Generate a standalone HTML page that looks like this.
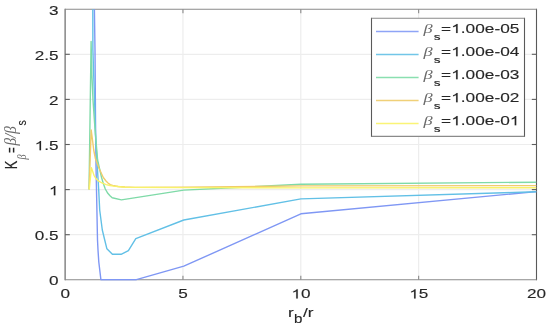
<!DOCTYPE html>
<html><head><meta charset="utf-8"><title>chart</title>
<style>
html,body{margin:0;padding:0;background:#fff;width:550px;height:327px;overflow:hidden;}
svg{display:block;filter:blur(0.35px);}
</style></head><body><svg width="550" height="327" viewBox="0 0 550 327"><g stroke="#ededed" stroke-width="1.2"><line x1="182.95" y1="9.2" x2="182.95" y2="279.8"/><line x1="300.80" y1="9.2" x2="300.80" y2="279.8"/><line x1="418.65" y1="9.2" x2="418.65" y2="279.8"/><line x1="65.1" y1="234.70" x2="536.5" y2="234.70"/><line x1="65.1" y1="189.60" x2="536.5" y2="189.60"/><line x1="65.1" y1="144.50" x2="536.5" y2="144.50"/><line x1="65.1" y1="99.40" x2="536.5" y2="99.40"/><line x1="65.1" y1="54.30" x2="536.5" y2="54.30"/></g><defs><clipPath id="c"><rect x="65.1" y="9.2" width="471.4" height="271.6"/></clipPath></defs><g stroke-width="1.1" fill="none"><line x1="65.1" y1="8.7" x2="65.1" y2="280.3" stroke="#5a5a5a"/><line x1="536.5" y1="8.7" x2="536.5" y2="280.3" stroke="#5a5a5a"/><line x1="65.1" y1="9.2" x2="536.5" y2="9.2" stroke="#8a8a8a"/><line x1="65.1" y1="279.8" x2="536.5" y2="279.8" stroke="#8a8a8a"/><line x1="182.95" y1="279.8" x2="182.95" y2="275.8" stroke="#8a8a8a"/><line x1="182.95" y1="9.2" x2="182.95" y2="13.2" stroke="#8a8a8a"/><line x1="300.80" y1="279.8" x2="300.80" y2="275.8" stroke="#8a8a8a"/><line x1="300.80" y1="9.2" x2="300.80" y2="13.2" stroke="#8a8a8a"/><line x1="418.65" y1="279.8" x2="418.65" y2="275.8" stroke="#8a8a8a"/><line x1="418.65" y1="9.2" x2="418.65" y2="13.2" stroke="#8a8a8a"/><line x1="65.1" y1="234.70" x2="69.8" y2="234.70" stroke="#5e5e5e"/><line x1="536.5" y1="234.70" x2="531.8" y2="234.70" stroke="#5e5e5e"/><line x1="65.1" y1="189.60" x2="69.8" y2="189.60" stroke="#5e5e5e"/><line x1="536.5" y1="189.60" x2="531.8" y2="189.60" stroke="#5e5e5e"/><line x1="65.1" y1="144.50" x2="69.8" y2="144.50" stroke="#5e5e5e"/><line x1="536.5" y1="144.50" x2="531.8" y2="144.50" stroke="#5e5e5e"/><line x1="65.1" y1="99.40" x2="69.8" y2="99.40" stroke="#5e5e5e"/><line x1="536.5" y1="99.40" x2="531.8" y2="99.40" stroke="#5e5e5e"/><line x1="65.1" y1="54.30" x2="69.8" y2="54.30" stroke="#5e5e5e"/><line x1="536.5" y1="54.30" x2="531.8" y2="54.30" stroke="#5e5e5e"/></g><g clip-path="url(#c)" fill="none" stroke-width="1.4" stroke-linejoin="round"><polyline points="94.30,-10.00 94.40,9.30 95.00,50.00 95.50,120.00 96.00,165.00 96.70,200.00 97.50,240.00 98.00,250.00 98.80,262.00 100.90,279.70 136.40,279.70 183.80,266.20 300.90,213.80 536.50,191.60" stroke="#7f97f4"/><polyline points="92.70,-10.00 92.80,9.30 92.90,50.00 93.70,75.00 94.60,100.00 95.50,135.00 96.70,155.00 97.50,170.00 98.70,190.00 99.70,210.00 101.00,220.00 102.30,230.00 104.60,239.50 106.90,248.80 112.40,254.30 121.10,254.30 128.40,250.60 135.80,238.70 183.80,220.00 300.90,198.90 536.50,191.80" stroke="#62c0e6"/><polyline points="89.05,189.50 91.10,41.50 91.90,75.00 93.00,100.00 94.50,122.00 95.50,135.00 96.60,148.00 97.60,160.00 99.50,168.50 101.70,178.00 103.50,184.10 105.30,189.00 107.80,193.30 110.00,195.70 112.20,197.80 121.40,199.90 183.80,190.10 300.90,184.30 536.50,182.20" stroke="#7fdaa8"/><polyline points="89.05,189.50 91.20,130.00 92.50,140.00 93.70,150.00 95.40,158.50 96.60,162.00 98.90,168.00 101.00,172.50 103.30,177.50 106.00,181.00 108.00,183.00 110.20,184.60 114.00,185.80 118.00,186.50 125.00,187.00 135.00,187.40 183.80,187.30 300.90,185.90 536.50,185.60" stroke="#f0cc6c"/><polyline points="89.30,189.50 91.40,167.60 94.00,175.30 96.00,178.60 98.00,180.70 100.10,181.90 103.00,183.40 106.20,184.60 110.00,185.50 114.00,186.10 118.00,186.50 125.00,187.20 183.80,187.60 300.90,187.90 536.50,187.80" stroke="#f8f26a"/></g><g fill="#262626" stroke="#262626" stroke-width="0.12" font-family="Liberation Sans, sans-serif"><text transform="translate(48.96,285.45) scale(1.34,1)" font-size="12.8">0</text><text transform="translate(34.66,240.36) scale(1.34,1)" font-size="12.8">0.5</text><path transform="translate(48.96,195.27) scale(0.00838,-0.00625)" vector-effect="non-scaling-stroke" d="M763 0H583V1147Q518 1085 412 1023T223 930V1104Q374 1175 487 1276T647 1472H763Z"/><path transform="translate(34.66,150.18) scale(0.00838,-0.00625)" vector-effect="non-scaling-stroke" d="M763 0H583V1147Q518 1085 412 1023T223 930V1104Q374 1175 487 1276T647 1472H763Z"/><text transform="translate(44.20,150.18) scale(1.34,1)" font-size="12.8">.5</text><text transform="translate(48.96,105.09) scale(1.34,1)" font-size="12.8">2</text><text transform="translate(34.66,60.00) scale(1.34,1)" font-size="12.8">2.5</text><text transform="translate(48.96,14.91) scale(1.34,1)" font-size="12.8">3</text><text transform="translate(60.43,298.40) scale(1.34,1)" font-size="12.8">0</text><text transform="translate(178.28,298.40) scale(1.34,1)" font-size="12.8">5</text><path transform="translate(291.36,298.40) scale(0.00838,-0.00625)" vector-effect="non-scaling-stroke" d="M763 0H583V1147Q518 1085 412 1023T223 930V1104Q374 1175 487 1276T647 1472H763Z"/><text transform="translate(300.90,298.40) scale(1.34,1)" font-size="12.8">0</text><path transform="translate(409.21,298.40) scale(0.00838,-0.00625)" vector-effect="non-scaling-stroke" d="M763 0H583V1147Q518 1085 412 1023T223 930V1104Q374 1175 487 1276T647 1472H763Z"/><text transform="translate(418.75,298.40) scale(1.34,1)" font-size="12.8">5</text><text transform="translate(527.06,298.40) scale(1.34,1)" font-size="12.8">20</text><text transform="translate(287.90,316.60) scale(1.35,1)" text-anchor="start" font-size="12.8" >r</text><text transform="translate(294.10,322.80) scale(1.22,1)" text-anchor="start" font-size="12.4" >b</text><text transform="translate(303.00,316.60) scale(1.35,1)" text-anchor="start" font-size="12.8" >/r</text></g><text transform="translate(17.00,169.20) scale(1.350,1) rotate(-90)" font-size="12.80" fill="#262626" stroke="#262626" stroke-width="0.12" font-family="Liberation Sans, sans-serif" >K</text><text transform="translate(25.74,159.45) scale(1.305,1) rotate(-90)" font-size="10.20" fill="#6a6a6a"  font-family="Liberation Serif, serif" font-style="italic">β</text><text transform="translate(16.76,152.90) scale(1.580,1) rotate(-90)" font-size="9.90" fill="#262626" stroke="#262626" stroke-width="0.12" font-family="Liberation Sans, sans-serif" >=</text><text transform="translate(16.40,145.57) scale(1.070,1) rotate(-90)" font-size="15.25" fill="#6a6a6a"  font-family="Liberation Serif, serif" font-style="italic">β/β</text><text transform="translate(25.58,125.40) scale(1.160,1) rotate(-90)" font-size="10.60" fill="#262626" stroke="#262626" stroke-width="0.12" font-family="Liberation Sans, sans-serif" >s</text><rect x="371.5" y="18.3" width="153.0" height="118.10000000000001" fill="#fff"/><g stroke-width="1.1"><line x1="371.5" y1="17.8" x2="371.5" y2="136.9" stroke="#5a5a5a"/><line x1="524.5" y1="17.8" x2="524.5" y2="136.9" stroke="#5a5a5a"/><line x1="371.5" y1="18.3" x2="524.5" y2="18.3" stroke="#8a8a8a"/><line x1="371.5" y1="136.4" x2="524.5" y2="136.4" stroke="#8a8a8a"/></g><line x1="376" y1="31.4" x2="418.6" y2="31.4" stroke="#8ea4f6" stroke-width="1.5"/><text transform="translate(423.60,33.25) scale(1.54,1)" text-anchor="start" font-size="11.85" fill="#6a6a6a" font-family="Liberation Serif, serif" font-style="italic">β</text><text transform="translate(433.70,39.60) scale(1.37,1)" text-anchor="start" font-size="9.9" fill="#262626" stroke="#262626" stroke-width="0.12" font-family="Liberation Sans, sans-serif">s</text><g fill="#262626" stroke="#262626" stroke-width="0.12" font-family="Liberation Sans, sans-serif"><text transform="translate(441.10,33.10) scale(1.35,1)" font-size="12.8">=</text><path transform="translate(451.19,33.10) scale(0.00844,-0.00625)" vector-effect="non-scaling-stroke" d="M763 0H583V1147Q518 1085 412 1023T223 930V1104Q374 1175 487 1276T647 1472H763Z"/><text transform="translate(460.80,33.10) scale(1.35,1)" font-size="12.8">.00e-05</text></g><line x1="376" y1="54.45" x2="418.6" y2="54.45" stroke="#72c6e8" stroke-width="1.5"/><text transform="translate(423.60,56.30) scale(1.54,1)" text-anchor="start" font-size="11.85" fill="#6a6a6a" font-family="Liberation Serif, serif" font-style="italic">β</text><text transform="translate(433.70,62.65) scale(1.37,1)" text-anchor="start" font-size="9.9" fill="#262626" stroke="#262626" stroke-width="0.12" font-family="Liberation Sans, sans-serif">s</text><g fill="#262626" stroke="#262626" stroke-width="0.12" font-family="Liberation Sans, sans-serif"><text transform="translate(441.10,56.15) scale(1.35,1)" font-size="12.8">=</text><path transform="translate(451.19,56.15) scale(0.00844,-0.00625)" vector-effect="non-scaling-stroke" d="M763 0H583V1147Q518 1085 412 1023T223 930V1104Q374 1175 487 1276T647 1472H763Z"/><text transform="translate(460.80,56.15) scale(1.35,1)" font-size="12.8">.00e-04</text></g><line x1="376" y1="77.5" x2="418.6" y2="77.5" stroke="#8adfb0" stroke-width="1.5"/><text transform="translate(423.60,79.35) scale(1.54,1)" text-anchor="start" font-size="11.85" fill="#6a6a6a" font-family="Liberation Serif, serif" font-style="italic">β</text><text transform="translate(433.70,85.70) scale(1.37,1)" text-anchor="start" font-size="9.9" fill="#262626" stroke="#262626" stroke-width="0.12" font-family="Liberation Sans, sans-serif">s</text><g fill="#262626" stroke="#262626" stroke-width="0.12" font-family="Liberation Sans, sans-serif"><text transform="translate(441.10,79.20) scale(1.35,1)" font-size="12.8">=</text><path transform="translate(451.19,79.20) scale(0.00844,-0.00625)" vector-effect="non-scaling-stroke" d="M763 0H583V1147Q518 1085 412 1023T223 930V1104Q374 1175 487 1276T647 1472H763Z"/><text transform="translate(460.80,79.20) scale(1.35,1)" font-size="12.8">.00e-03</text></g><line x1="376" y1="100.55" x2="418.6" y2="100.55" stroke="#f0d078" stroke-width="1.5"/><text transform="translate(423.60,102.40) scale(1.54,1)" text-anchor="start" font-size="11.85" fill="#6a6a6a" font-family="Liberation Serif, serif" font-style="italic">β</text><text transform="translate(433.70,108.75) scale(1.37,1)" text-anchor="start" font-size="9.9" fill="#262626" stroke="#262626" stroke-width="0.12" font-family="Liberation Sans, sans-serif">s</text><g fill="#262626" stroke="#262626" stroke-width="0.12" font-family="Liberation Sans, sans-serif"><text transform="translate(441.10,102.25) scale(1.35,1)" font-size="12.8">=</text><path transform="translate(451.19,102.25) scale(0.00844,-0.00625)" vector-effect="non-scaling-stroke" d="M763 0H583V1147Q518 1085 412 1023T223 930V1104Q374 1175 487 1276T647 1472H763Z"/><text transform="translate(460.80,102.25) scale(1.35,1)" font-size="12.8">.00e-02</text></g><line x1="376" y1="123.6" x2="418.6" y2="123.6" stroke="#faf476" stroke-width="1.5"/><text transform="translate(423.60,125.45) scale(1.54,1)" text-anchor="start" font-size="11.85" fill="#6a6a6a" font-family="Liberation Serif, serif" font-style="italic">β</text><text transform="translate(433.70,131.80) scale(1.37,1)" text-anchor="start" font-size="9.9" fill="#262626" stroke="#262626" stroke-width="0.12" font-family="Liberation Sans, sans-serif">s</text><g fill="#262626" stroke="#262626" stroke-width="0.12" font-family="Liberation Sans, sans-serif"><text transform="translate(441.10,125.30) scale(1.35,1)" font-size="12.8">=</text><path transform="translate(451.19,125.30) scale(0.00844,-0.00625)" vector-effect="non-scaling-stroke" d="M763 0H583V1147Q518 1085 412 1023T223 930V1104Q374 1175 487 1276T647 1472H763Z"/><text transform="translate(460.80,125.30) scale(1.35,1)" font-size="12.8">.00e-0</text><path transform="translate(509.80,125.30) scale(0.00844,-0.00625)" vector-effect="non-scaling-stroke" d="M763 0H583V1147Q518 1085 412 1023T223 930V1104Q374 1175 487 1276T647 1472H763Z"/></g></svg></body></html>
